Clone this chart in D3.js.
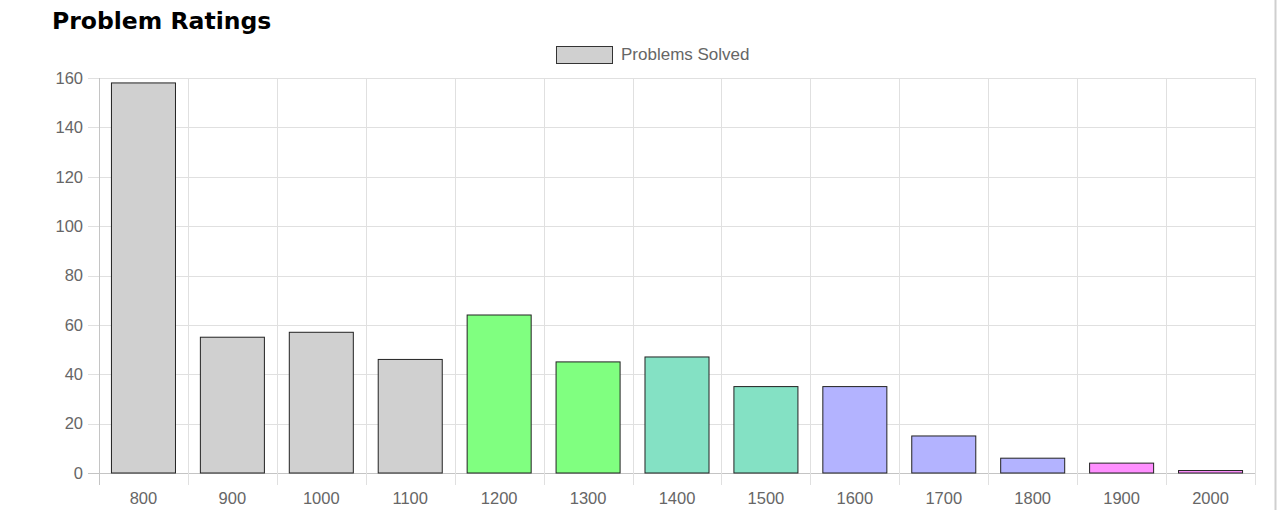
<!DOCTYPE html>
<html>
<head>
<meta charset="utf-8">
<script src="https://cdn.jsdelivr.net/npm/d3@7"></script>
<style>
  body { margin: 0; background: #fff; }
  svg { display: block; }
</style>
</head>
<body>
<div id="chart"></div>
<script>
// data
var ratings = ["800", "900", "1000", "1100", "1200", "1300", "1400", "1500", "1600", "1700", "1800", "1900", "2000"];
var solved = [158, 55, 57, 46, 64, 45, 47, 35, 35, 15, 6, 4, 1];
var yTicks = [0, 20, 40, 60, 80, 100, 120, 140, 160];
var seriesName = "Problems Solved";

var svgWidth = 1280, svgHeight = 510;
var margin = { top: 78, right: 25, bottom: 37, left: 99 };
var chartWidth = 1255 - margin.left;
var chartHeight = 473 - margin.top;

// rating -> colour
var colour = d3.scaleThreshold()
  .domain([1200, 1400, 1600, 1900])
  .range(["#d0d0d0", "#80ff80", "#84e1c4", "#b3b3ff", "#ff8fff"]);

var svg = d3.select("#chart")
  .append("svg")
  .attr("width", svgWidth)
  .attr("height", svgHeight);

// page border on the right
svg.append("line")
  .attr("x1", 1275.5).attr("x2", 1275.5)
  .attr("y1", 0).attr("y2", svgHeight)
  .attr("stroke", "#cfcfcf").attr("stroke-width", 2);

svg.append("text")
  .attr("x", 52).attr("y", 29)
  .attr("font-family", "Verdana, 'DejaVu Sans', sans-serif")
  .attr("font-weight", "bold")
  .attr("font-size", 23.5)
  .attr("fill", "#000")
  .text("Problem Ratings");

// legend
var legend = svg.append("g");
legend.append("rect")
  .attr("x", 556.5).attr("y", 46.5)
  .attr("width", 56).attr("height", 17)
  .attr("fill", colour(800)).attr("stroke", "#333");
legend.append("text")
  .attr("x", 621).attr("y", 60)
  .attr("font-family", "'Liberation Sans', Arial, sans-serif")
  .attr("font-size", 17)
  .attr("fill", "#666")
  .text(seriesName);

var chart = svg.append("g")
  .attr("transform", `translate(${margin.left}, ${margin.top})`);

var x = d3.scaleBand()
  .domain(ratings)
  .range([0, chartWidth])
  .padding(0);

var y = d3.scaleLinear()
  .domain([0, 160])
  .range([chartHeight, 0]);

// horizontal grid
chart.append("g")
  .selectAll("line")
  .data(yTicks)
  .enter()
  .append("line")
  .attr("x1", -11).attr("x2", chartWidth)
  .attr("y1", d => Math.round(y(d)) + 0.5)
  .attr("y2", d => Math.round(y(d)) + 0.5)
  .attr("stroke", d => d === 0 ? "#c4c4c4" : "#e0e0e0");

// vertical grid at category edges
var edges = ratings.map(d => x(d)).concat([chartWidth]);
chart.append("g")
  .selectAll("line")
  .data(edges)
  .enter()
  .append("line")
  .attr("x1", d => Math.round(d) + 0.5)
  .attr("x2", d => Math.round(d) + 0.5)
  .attr("y1", 0).attr("y2", chartHeight + 12)
  .attr("stroke", (d, i) => i === 0 ? "#c4c4c4" : "#e0e0e0");

// y axis labels
var yAxis = d3.axisLeft(y).tickValues(yTicks).tickSize(0).tickPadding(16);
chart.append("g")
  .call(yAxis)
  .call(g => g.select(".domain").remove())
  .call(g => g.selectAll("text")
    .attr("font-family", "'Liberation Sans', Arial, sans-serif")
    .attr("font-size", 16.5)
    .attr("fill", "#666"));

// x axis labels
var xAxis = d3.axisBottom(x).tickSize(0).tickPadding(19);
chart.append("g")
  .attr("transform", `translate(0, ${chartHeight})`)
  .call(xAxis)
  .call(g => g.select(".domain").remove())
  .call(g => g.selectAll("text")
    .attr("font-family", "'Liberation Sans', Arial, sans-serif")
    .attr("font-size", 16.5)
    .attr("fill", "#666"));

// bars
var barW = x.bandwidth() * 0.72;
chart.selectAll("rect.bar")
  .data(ratings)
  .enter()
  .append("rect")
  .classed("bar", true)
  .attr("x", d => x(d) + (x.bandwidth() - barW) / 2)
  .attr("y", (d, i) => y(solved[i]))
  .attr("width", barW)
  .attr("height", (d, i) => chartHeight - y(solved[i]))
  .attr("fill", d => colour(+d))
  .attr("stroke", "#222")
  .attr("stroke-width", 1);
</script>
</body>
</html>
